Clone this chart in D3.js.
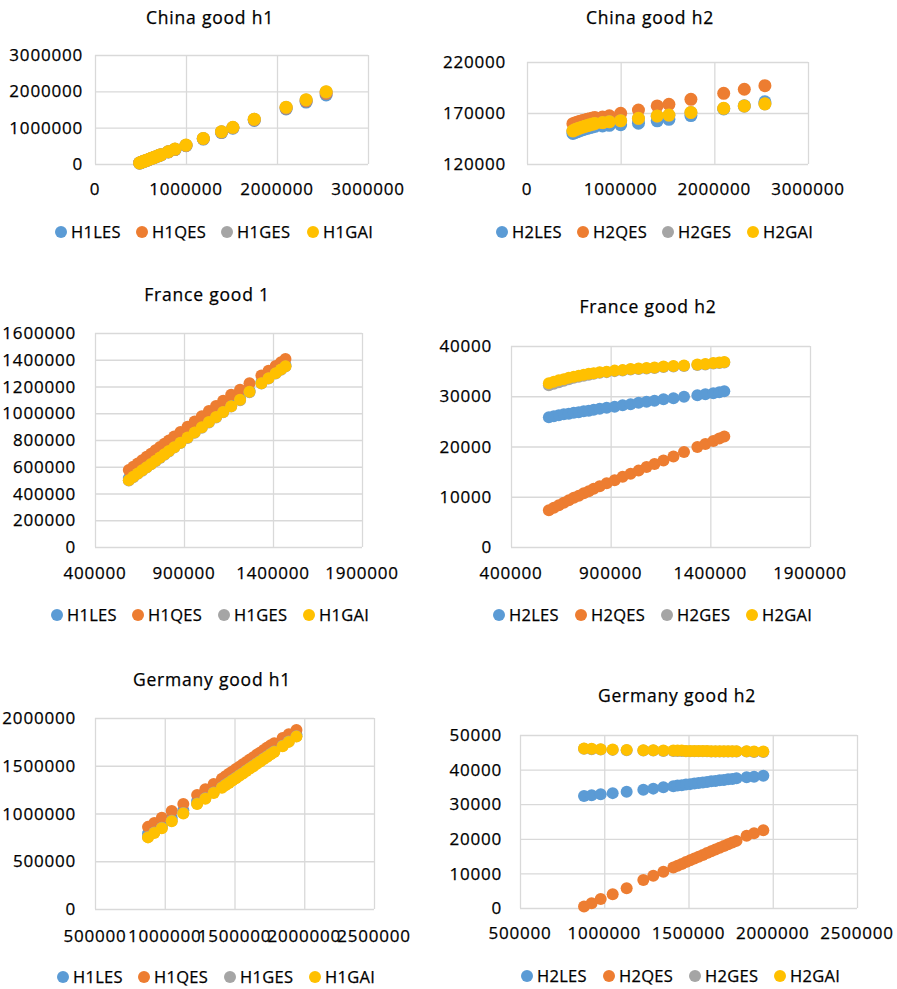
<!DOCTYPE html>
<html>
<head>
<meta charset="utf-8">
<script src="https://cdnjs.cloudflare.com/ajax/libs/d3/7.8.5/d3.min.js"></script>
<style>
  html, body { margin: 0; padding: 0; background: #fff; }
  svg { display: block; font-family: "Open Sans", sans-serif; }
  svg text { stroke: #000; stroke-width: 0.25px; }
</style>
</head>
<body>
<svg id="chart" width="897" height="989"></svg>
<script>
// ---- data ----
const seriesNamesH1 = ["H1LES", "H1QES", "H1GES", "H1GAI"];
const seriesNamesH2 = ["H2LES", "H2QES", "H2GES", "H2GAI"];
const seriesColors = ["#5B9BD5", "#ED7D31", "#A5A5A5", "#FFC000"];

// China
const chinaX = [490000, 510000, 530000, 550000, 570000, 595000, 620000, 645000, 670000, 700000, 725000, 806000, 879000, 1000000, 1190000, 1390000, 1515000, 1750000, 2100000, 2320000, 2540000];
const chinaH1LES = [26000, 46000, 64000, 83000, 101000, 125000, 149000, 172000, 196000, 225000, 248000, 330000, 398000, 505000, 686000, 866000, 985000, 1200000, 1515000, 1705000, 1900000];
const chinaH1QES = [28000, 48000, 66000, 85000, 104000, 128000, 152000, 175000, 199000, 228000, 252000, 335000, 404000, 512000, 695000, 878000, 997000, 1215000, 1540000, 1735000, 1945000];
const chinaH1GES = [30000, 49000, 67000, 86000, 105000, 129000, 154000, 177000, 201000, 231000, 255000, 338000, 408000, 518000, 702000, 886000, 1005000, 1230000, 1558000, 1762000, 1980000];
const chinaH1GAI = [30000, 50000, 68000, 87000, 106000, 130000, 155000, 178000, 202000, 232000, 256000, 340000, 410000, 520000, 705000, 890000, 1010000, 1235000, 1565000, 1770000, 1990000];
const chinaH2LES = [150000, 150800, 151500, 152200, 152900, 153600, 154300, 155000, 155700, 156300, 156900, 157300, 157900, 158500, 160000, 162300, 163800, 167500, 174000, 177000, 181000];
const chinaH2QES = [159500, 160200, 160800, 161400, 162000, 162600, 163200, 163800, 164400, 165000, 165500, 166000, 167200, 169700, 172900, 176900, 178500, 183400, 189300, 193300, 196800];
const chinaH2GES = [152300, 153300, 154000, 154700, 155400, 156100, 156800, 157500, 158200, 158900, 159500, 160400, 161300, 162300, 164600, 166900, 167800, 170400, 174400, 176700, 178800];
const chinaH2GAI = [152500, 153500, 154200, 154900, 155600, 156300, 157000, 157700, 158400, 159100, 159700, 160600, 161500, 162500, 164800, 167100, 168000, 170600, 174600, 176900, 179000];

// France
const franceX = [590000, 615000, 640000, 665000, 690000, 715000, 740000, 765000, 790000, 815000, 845000, 880000, 920000, 960000, 1000000, 1040000, 1080000, 1120000, 1165000, 1215000, 1268000, 1335000, 1375000, 1415000, 1445000, 1470000];
const franceH1LES = [515000, 538000, 562000, 585000, 608000, 632000, 656000, 679000, 703000, 727000, 756000, 790000, 828000, 867000, 905000, 944000, 982000, 1020000, 1063000, 1111000, 1168000, 1233000, 1270000, 1308000, 1336000, 1360000];
const franceH1QES = [576000, 600000, 625000, 649000, 674000, 698000, 723000, 747000, 772000, 796000, 826000, 860000, 899000, 938000, 977000, 1016000, 1055000, 1094000, 1138000, 1176000, 1224000, 1282000, 1318000, 1354000, 1382000, 1405000];
const franceH1GES = [497000, 522000, 547000, 570000, 594000, 618000, 642000, 666000, 690000, 714000, 743000, 777000, 815000, 854000, 892000, 931000, 969000, 1007000, 1050000, 1098000, 1157000, 1222000, 1259000, 1297000, 1325000, 1349000];
const franceH1GAI = [500000, 525000, 550000, 573000, 597000, 621000, 645000, 669000, 693000, 717000, 746000, 780000, 818000, 857000, 895000, 934000, 972000, 1010000, 1053000, 1101000, 1160000, 1225000, 1262000, 1300000, 1328000, 1352000];
const franceH2LES = [25800, 26000, 26200, 26400, 26500, 26700, 26800, 27000, 27100, 27300, 27500, 27700, 27900, 28200, 28400, 28700, 28900, 29100, 29400, 29600, 29900, 30200, 30400, 30600, 30800, 31000];
const franceH2QES = [7300, 7800, 8300, 8800, 9300, 9800, 10200, 10700, 11100, 11600, 12100, 12700, 13300, 14000, 14600, 15200, 15900, 16500, 17200, 18000, 18900, 19900, 20500, 21100, 21600, 22000];
const franceH2GES = [32200, 32500, 32800, 33100, 33400, 33700, 33900, 34100, 34300, 34500, 34700, 34800, 35000, 35100, 35300, 35400, 35500, 35600, 35800, 35900, 36000, 36200, 36300, 36500, 36600, 36700];
const franceH2GAI = [32600, 32900, 33200, 33400, 33700, 33900, 34100, 34300, 34500, 34600, 34800, 34900, 35100, 35200, 35400, 35500, 35600, 35700, 35900, 36000, 36100, 36300, 36400, 36600, 36700, 36800];

// Germany
const germanyX = [880000, 925000, 979000, 1050000, 1133000, 1232000, 1291000, 1351000, 1410000, 1435000, 1460000, 1485000, 1510000, 1535000, 1560000, 1585000, 1610000, 1635000, 1660000, 1685000, 1710000, 1735000, 1760000, 1785000, 1845000, 1889000, 1944000];
const germanyH1LES = [790000, 830000, 880000, 955000, 1035000, 1130000, 1185000, 1245000, 1300000, 1325000, 1350000, 1375000, 1400000, 1425000, 1450000, 1475000, 1500000, 1525000, 1550000, 1575000, 1600000, 1625000, 1650000, 1672000, 1730000, 1774000, 1828000];
const germanyH1QES = [860000, 900000, 955000, 1025000, 1100000, 1195000, 1255000, 1310000, 1365000, 1390000, 1415000, 1440000, 1465000, 1490000, 1515000, 1540000, 1565000, 1590000, 1615000, 1640000, 1665000, 1690000, 1715000, 1735000, 1790000, 1830000, 1875000];
const germanyH1GES = [755000, 800000, 850000, 925000, 1005000, 1105000, 1160000, 1220000, 1275000, 1300000, 1325000, 1350000, 1375000, 1400000, 1425000, 1450000, 1475000, 1500000, 1525000, 1550000, 1575000, 1600000, 1625000, 1650000, 1710000, 1755000, 1810000];
const germanyH1GAI = [750000, 795000, 845000, 920000, 1000000, 1100000, 1155000, 1215000, 1270000, 1295000, 1320000, 1345000, 1370000, 1395000, 1420000, 1445000, 1470000, 1495000, 1520000, 1545000, 1570000, 1595000, 1620000, 1645000, 1705000, 1750000, 1805000];
const germanyH2LES = [32400, 32600, 32900, 33200, 33600, 34200, 34500, 34900, 35200, 35400, 35500, 35700, 35800, 36000, 36100, 36300, 36400, 36600, 36700, 36900, 37000, 37200, 37300, 37500, 37800, 37900, 38200];
const germanyH2QES = [400, 1400, 2600, 4000, 5700, 8100, 9300, 10500, 11700, 12200, 12700, 13300, 13800, 14300, 14800, 15300, 15900, 16400, 16900, 17400, 17900, 18400, 18900, 19400, 20900, 21600, 22500];
const germanyH2GES = [46000, 45900, 45800, 45700, 45600, 45500, 45500, 45400, 45400, 45400, 45400, 45300, 45300, 45300, 45300, 45300, 45300, 45200, 45200, 45200, 45200, 45200, 45200, 45200, 45200, 45100, 45100];
const germanyH2GAI = [46100, 46000, 45900, 45800, 45700, 45600, 45600, 45500, 45500, 45500, 45500, 45400, 45400, 45400, 45400, 45400, 45400, 45300, 45300, 45300, 45300, 45300, 45300, 45300, 45300, 45200, 45200];

// axis ticks
const chinaXTicks = [0, 1000000, 2000000, 3000000];
const franceXTicks = [400000, 900000, 1400000, 1900000];
const germanyXTicks = [500000, 1000000, 1500000, 2000000, 2500000];
const chinaH1YTicks = [0, 1000000, 2000000, 3000000];
const chinaH2YTicks = [120000, 170000, 220000];
const franceH1YTicks = [0, 200000, 400000, 600000, 800000, 1000000, 1200000, 1400000, 1600000];
const franceH2YTicks = [0, 10000, 20000, 30000, 40000];
const germanyH1YTicks = [0, 500000, 1000000, 1500000, 2000000];
const germanyH2YTicks = [0, 10000, 20000, 30000, 40000, 50000];

// ---- panel layout ----
const panels = [
  { title: "China good h1", x: chinaX, ys: [chinaH1LES, chinaH1QES, chinaH1GES, chinaH1GAI], names: seriesNamesH1,
    xTicks: chinaXTicks, yTicks: chinaH1YTicks, left: 95, right: 368, top: 55, bottom: 164, yLabelGap: 12,
    titleX: 210, titleY: 18, xLabelY: 189, legendY: 232, legendX: [61, 142, 227, 313], r: 6.5 },
  { title: "China good h2", x: chinaX, ys: [chinaH2LES, chinaH2QES, chinaH2GES, chinaH2GAI], names: seriesNamesH2,
    xTicks: chinaXTicks, yTicks: chinaH2YTicks, left: 527, right: 808, top: 62, bottom: 164, yLabelGap: 21,
    titleX: 650, titleY: 18, xLabelY: 189, legendY: 232, legendX: [502, 583, 668, 753], r: 6.5 },
  { title: "France good 1", x: franceX, ys: [franceH1LES, franceH1QES, franceH1GES, franceH1GAI], names: seriesNamesH1,
    xTicks: franceXTicks, yTicks: franceH1YTicks, left: 95, right: 362, top: 333, bottom: 547, yLabelGap: 19,
    titleX: 207, titleY: 295, xLabelY: 573, legendY: 615, legendX: [57, 138, 224, 309], r: 6 },
  { title: "France good h2", x: franceX, ys: [franceH2LES, franceH2QES, franceH2GES, franceH2GAI], names: seriesNamesH2,
    xTicks: franceXTicks, yTicks: franceH2YTicks, left: 511, right: 810, top: 346, bottom: 547, yLabelGap: 19,
    titleX: 648, titleY: 307, xLabelY: 573, legendY: 615, legendX: [499, 581, 667, 752], r: 6 },
  { title: "Germany good h1", x: germanyX, ys: [germanyH1LES, germanyH1QES, germanyH1GES, germanyH1GAI], names: seriesNamesH1,
    xTicks: germanyXTicks, yTicks: germanyH1YTicks, left: 95, right: 374, top: 718, bottom: 909, yLabelGap: 19,
    titleX: 212, titleY: 680, xLabelY: 936, legendY: 977, legendX: [63, 144, 230, 315], r: 6 },
  { title: "Germany good h2", x: germanyX, ys: [germanyH2LES, germanyH2QES, germanyH2GES, germanyH2GAI], names: seriesNamesH2,
    xTicks: germanyXTicks, yTicks: germanyH2YTicks, left: 520, right: 857, top: 735, bottom: 908, yLabelGap: 18,
    titleX: 677, titleY: 696, xLabelY: 933, legendY: 976, legendX: [527, 609, 695, 780], r: 6 }
];

const svg = d3.select("#chart");
const fmt = d3.format("d");
const gridColor = "#d9d9d9";
const textColor = "#000";

panels.forEach(p => {
  const g = svg.append("g");
  const x = d3.scaleLinear().domain(d3.extent(p.xTicks)).range([p.left, p.right]);
  const y = d3.scaleLinear().domain(d3.extent(p.yTicks)).range([p.bottom, p.top]);

  // gridlines (vertical + horizontal) via axes
  const gx = g.append("g")
    .attr("transform", `translate(0,${p.bottom})`)
    .call(d3.axisBottom(x).tickValues(p.xTicks).tickSize(-(p.bottom - p.top)).tickFormat(""));
  const gy = g.append("g")
    .attr("transform", `translate(${p.left},0)`)
    .call(d3.axisLeft(y).tickValues(p.yTicks).tickSize(-(p.right - p.left)).tickFormat(""));
  [gx, gy].forEach(a => {
    a.select(".domain").remove();
    a.selectAll(".tick line").attr("stroke", gridColor).attr("stroke-width", 1.3);
  });

  // tick labels
  g.append("g").selectAll("text").data(p.xTicks).join("text")
    .attr("x", d => x(d)).attr("y", p.xLabelY).attr("dy", "0.36em")
    .attr("text-anchor", "middle")
    .attr("font-size", 17).attr("letter-spacing", 0.8).attr("fill", textColor)
    .text(d => fmt(d));
  g.append("g").selectAll("text").data(p.yTicks).join("text")
    .attr("x", p.left - p.yLabelGap).attr("y", d => y(d)).attr("dy", "0.36em")
    .attr("text-anchor", "end")
    .attr("font-size", 17).attr("letter-spacing", 0.8).attr("fill", textColor)
    .text(d => fmt(d));

  // title
  g.append("text")
    .attr("x", p.titleX).attr("y", p.titleY).attr("dy", "0.36em")
    .attr("text-anchor", "middle")
    .attr("font-size", 17.5).attr("letter-spacing", 0.8).attr("fill", textColor)
    .text(p.title);

  // scatter series, drawn LES -> QES -> GES -> GAI
  p.ys.forEach((vals, si) => {
    g.append("g").selectAll("circle")
      .data(p.x.map((xv, i) => [xv, vals[i]]))
      .join("circle")
      .attr("cx", d => x(d[0]))
      .attr("cy", d => y(d[1]))
      .attr("r", p.r)
      .attr("fill", seriesColors[si]);
  });

  // legend
  const lg = g.append("g");
  p.names.forEach((name, si) => {
    lg.append("circle")
      .attr("cx", p.legendX[si]).attr("cy", p.legendY).attr("r", 6)
      .attr("fill", seriesColors[si]);
    lg.append("text")
      .attr("x", p.legendX[si] + 10).attr("y", p.legendY).attr("dy", "0.36em")
      .attr("font-size", 16.5).attr("letter-spacing", 0.3).attr("fill", textColor)
      .text(name);
  });
});
</script>
</body>
</html>
